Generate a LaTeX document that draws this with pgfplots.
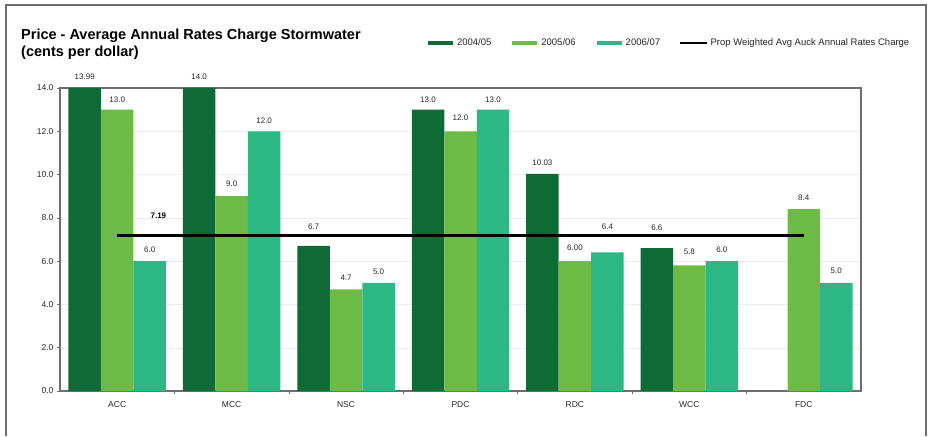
\documentclass[border=0pt]{standalone}
\usepackage{pgfplots}
\pgfplotsset{compat=1.18}
\usepackage{pgfplotstable}
\usepackage{fontspec}
\setmainfont{Liberation Sans}

\definecolor{yrA}{HTML}{0F6B35}
\definecolor{yrB}{HTML}{6BBB46}
\definecolor{yrC}{HTML}{2DB784}
\definecolor{frame}{HTML}{6E6E6E}

% x = council index, label = printed value, dy = extra lift of the label
\pgfplotstableread{
x y label dy
0 13.99 13.99 5
1 14.0 14.0 5
2 6.7 6.7 13
3 13.0 13.0 4
4 10.03 10.03 5
5 6.6 6.6 14
}\dataA
\pgfplotstableread{
x y label dy
0 13.0 13.0 4
1 9.0 9.0 6
2 4.7 4.7 5
3 12.0 12.0 7
4 6.00 6.00 7
5 5.8 5.8 7
6 8.4 8.4 5
}\dataB
\pgfplotstableread{
x y label dy
0 6.0 6.0 5
1 12.0 12.0 4
2 5.0 5.0 5
3 13.0 13.0 4
4 6.4 6.4 19
5 6.0 6.0 5
6 5.0 5.0 6
}\dataC

\begin{document}
\begin{tikzpicture}
\path (0,0) rectangle (933pt,436pt);
\draw[frame, line width=1.2pt] (6pt,0pt) -- (6pt,431pt) -- (926pt,431pt) -- (926pt,0pt);
\node[anchor=base west, inner sep=0pt, font=\bfseries\fontsize{14.5}{17}\selectfont]
  at (21pt,396pt) {Price - Average Annual Rates Charge Stormwater};
\node[anchor=base west, inner sep=0pt, font=\bfseries\fontsize{14.5}{17}\selectfont]
  at (21pt,379pt) {(cents per dollar)};

\begin{axis}[
  at={(60pt,45pt)}, anchor=south west,
  scale only axis, width=801pt, height=303pt,
  clip=false,
  ybar, bar width=0.284,
  xmin=-0.5, xmax=6.5, ymin=0, ymax=14,
  xtick={0,...,6},
  xticklabels={ACC,MCC,NSC,PDC,RDC,WCC,FDC},
  minor xtick={0.5,1.5,...,5.5},
  major x tick style={draw=none},
  minor tick length=3pt, major tick length=3pt,
  tick align=outside, tick pos=left,
  ytick={0,2,...,14},
  ymajorgrids, grid style={black!8},
  yticklabel style={/pgf/number format/.cd, fixed, fixed zerofill, precision=1, assume math mode=true},
  xticklabel style={yshift=-4pt},
  tick label style={font=\fontsize{8.5}{10}\selectfont, text=black!85},
  tick style={frame, line width=0.6pt},
  axis line style={frame, line width=1.3pt},
  legend columns=4,
  legend style={at={(0.453,1.149)}, anchor=west, draw=none, fill=none,
    font=\fontsize{9.5}{11}\selectfont, text=black!85,
    /tikz/every even column/.append style={column sep=17pt}},
  bars/.style={draw=none, fill=#1,
    nodes near coords, point meta=explicit symbolic,
    visualization depends on={\thisrow{dy} \as \dy},
    every node near coord/.append style={font=\fontsize{8}{9}\selectfont, text=black!85, yshift=\dy*1pt}},
]
\addlegendimage{legend image code/.code={\draw[yrA, line width=4pt] (0pt,0pt) -- (25pt,0pt);}}
\addlegendimage{legend image code/.code={\draw[yrB, line width=4pt] (0pt,0pt) -- (25pt,0pt);}}
\addlegendimage{legend image code/.code={\draw[yrC, line width=4pt] (0pt,0pt) -- (25pt,0pt);}}
\addlegendimage{legend image code/.code={\draw[black, line width=2.5pt] (0pt,0pt) -- (27pt,0pt);}}
\legend{2004/05,2005/06,2006/07,Prop Weighted Avg Auck Annual Rates Charge}

\addplot[bars=yrA, bar shift=-0.284] table[x=x, y=y, meta=label] {\dataA};
\addplot[bars=yrB, bar shift=0] table[x=x, y=y, meta=label] {\dataB};
\addplot[bars=yrC, bar shift=0.284] table[x=x, y=y, meta=label] {\dataC};

\addplot[sharp plot, black, line width=3pt] coordinates {(0,7.19) (6,7.19)};
\node[font=\bfseries\fontsize{8}{9}\selectfont, yshift=20pt] at (axis cs:0.36,7.19) {7.19};
\end{axis}
\end{tikzpicture}
\end{document}
